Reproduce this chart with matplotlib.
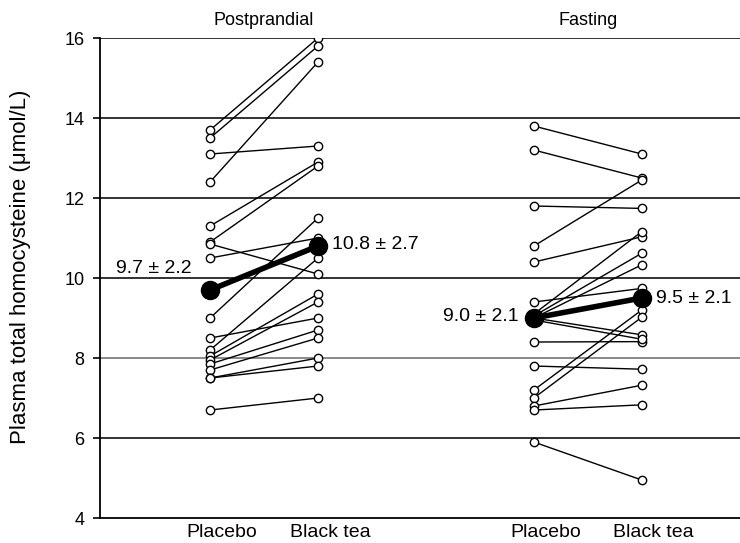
import matplotlib.pyplot as plt

plt.rcParams["font.family"] = ["Liberation Sans", "DejaVu Sans"]

# group positions on the x axis
x_post = (1, 2)
x_fast = (4, 5)

# individual subjects, postprandial (placebo, black tea)
post_placebo = [13.7, 13.5, 13.1, 12.4, 11.3, 10.9, 10.85, 10.5, 9.0,
                8.5, 8.2, 8.05, 7.95, 7.85, 7.7, 7.5, 7.5, 6.7]
post_tea = [16.0, 15.8, 13.3, 15.4, 12.9, 12.8, 10.1, 11.0, 11.5,
            9.0, 10.5, 9.6, 9.4, 8.7, 8.5, 8.0, 7.8, 7.0]

# individual subjects, fasting (placebo, black tea)
fast_placebo = [13.8, 13.2, 11.8, 10.8, 10.4, 9.4, 8.4, 7.8, 5.9,
                7.2, 7.0, 6.8, 6.7, 9.1, 9.05, 9.0, 9.0, 8.95]
fast_tea = [13.1, 12.5, 11.74, 12.45, 11.03, 9.74, 8.41, 7.72, 4.95,
            9.2, 9.02, 7.32, 6.83, 11.16, 10.62, 10.33, 8.58, 8.47]

# group means and SD labels
post_mean = [9.7, 10.8]
fast_mean = [9.0, 9.5]
post_labels = ["9.7 \u00b1 2.2", "10.8 \u00b1 2.7"]
fast_labels = ["9.0 \u00b1 2.1", "9.5 \u00b1 2.1"]

group_titles = ["Postprandial", "Fasting"]
tick_labels = ["Placebo", "Black tea", "Placebo", "Black tea"]
yticks = [4, 6, 8, 10, 12, 14, 16]

fig = plt.figure(figsize=(7.4, 5.43), dpi=100)
ax = fig.add_axes([0.1351, 0.046, 0.8649, 0.884])

for y in yticks[1:]:
    col = "#808080" if y == 8 else "#222222"
    ax.axhline(y, color=col, lw=1.3, zorder=0)


def draw_pairs(xs, before, after):
    for a, b in zip(before, after):
        ax.plot(xs, [a, b], color="black", lw=1.0, marker="o", ms=6,
                mfc="white", mec="black", mew=1.0, zorder=2)


draw_pairs(x_post, post_placebo, post_tea)
draw_pairs(x_fast, fast_placebo, fast_tea)

for xs, m in ((x_post, post_mean), (x_fast, fast_mean)):
    ax.plot(xs, m, color="black", lw=4, marker="o", ms=13, zorder=3)

fs = 14
ax.text(0.83, post_mean[0] + 0.55, post_labels[0], ha="right", va="center", fontsize=fs)
ax.text(2.13, post_mean[1] + 0.05, post_labels[1], ha="left", va="center", fontsize=fs)
ax.text(3.86, fast_mean[0] + 0.05, fast_labels[0], ha="right", va="center", fontsize=fs)
ax.text(5.13, fast_mean[1] + 0.0, fast_labels[1], ha="left", va="center", fontsize=fs)

for xs, t in zip((x_post, x_fast), group_titles):
    ax.text(sum(xs) / 2, 16.22, t, ha="center", va="bottom", fontsize=13)

for xp, lab in zip(x_post + x_fast, tick_labels):
    ax.text(xp + 0.11, 3.84, lab, ha="center", va="top", fontsize=14)

ax.set_xlim(-0.02, 5.91)
ax.set_ylim(4, 16)
ax.set_xticks([])
ax.set_yticks(yticks)
ax.tick_params(axis="y", direction="out", length=5, width=1.2, labelsize=13, pad=6)
for s in ("top", "right"):
    ax.spines[s].set_visible(False)
ax.spines["left"].set_linewidth(1.3)
ax.spines["bottom"].set_linewidth(1.3)
ax.set_ylabel("Plasma total homocysteine (\u03bcmol/L)", fontsize=16)
ax.yaxis.set_label_coords(-0.108, 0.523)

fig.savefig("out.png", dpi=100)
